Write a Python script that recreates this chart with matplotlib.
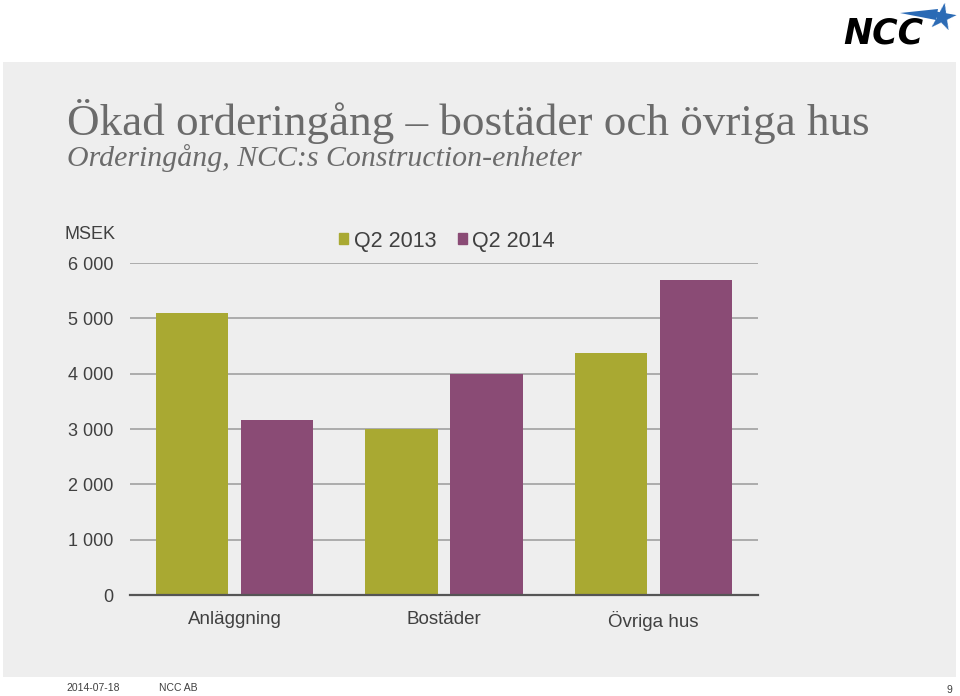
import numpy as np
import matplotlib.pyplot as plt
from matplotlib.patches import Rectangle, Patch, Polygon


categories = ["Anläggning", "Bostäder", "Övriga hus"]
q2_2013 = [5100, 3000, 4370]
q2_2014 = [3170, 4000, 5700]
series_names = ["Q2 2013", "Q2 2014"]
yticks = [0, 1000, 2000, 3000, 4000, 5000, 6000]

OLIVE = "#A9A932"
PURPLE = "#8A4B75"
TEXT = "#404040"
TITLE = "#6b6b6b"
BLUE = "#2a6ab5"

W, H = 960, 696


def fx(px):
    return px / W


def fy(py):
    return 1 - py / H


fig = plt.figure(figsize=(9.6, 6.96), dpi=100)
fig.patch.set_facecolor("white")

# grey slide panel
fig.patches.append(Rectangle((fx(3), fy(677)), fx(953), 615 / H,
                             transform=fig.transFigure, facecolor="#eeeeee",
                             edgecolor="none", zorder=-5))

# =========================
# Titles
# =========================

fig.text(fx(67), fy(121), "Ökad orderingång – bostäder och övriga hus",
         family="Liberation Serif", fontsize=32.5, color=TITLE, va="center")
fig.text(fx(67), fy(158), "Orderingång, NCC:s Construction-enheter",
         family="Liberation Serif", style="italic", fontsize=21.5,
         color=TITLE, va="center")

# =========================
# Bars
# =========================

ax = fig.add_axes([fx(130), fy(595), fx(628), 332 / H])
ax.set_facecolor("none")
ax.set_zorder(2)

x = np.arange(len(categories))
w = 0.347
off = 0.203
ax.bar(x - off, q2_2013, w, color=OLIVE, zorder=3, label=series_names[0])
ax.bar(x + off, q2_2014, w, color=PURPLE, zorder=3, label=series_names[1])

ax.set_xlim(-0.5, 2.5)
ax.set_ylim(0, 6000)
ax.set_yticks(yticks)
ax.set_yticklabels([f"{v:,}".replace(",", " ") for v in yticks])
ax.set_xticks(x)
ax.set_xticklabels(categories)
ax.tick_params(axis="y", length=0, pad=12, labelsize=13, labelcolor=TEXT)
ax.tick_params(axis="x", length=0, pad=11.5, labelsize=13.5, labelcolor=TEXT)
for lab in ax.get_yticklabels() + ax.get_xticklabels():
    lab.set_family("Liberation Sans")

ax.yaxis.grid(True, color="#a6a6a6", linewidth=1.3, zorder=1)
ax.set_axisbelow(True)
for s in ["top", "right", "left"]:
    ax.spines[s].set_visible(False)
ax.spines["bottom"].set_color("#555555")
ax.spines["bottom"].set_linewidth(1.6)
ax.spines["bottom"].set_zorder(4)

fig.text(fx(65), fy(234), "MSEK", family="Liberation Sans", fontsize=13,
         color=TEXT, va="center")

handles = [Patch(color=OLIVE), Patch(color=PURPLE)]
fig.legend(handles, series_names, loc="center", ncol=2,
           bbox_to_anchor=(fx(447), fy(241)), frameon=False,
           prop={"family": "Liberation Sans", "size": 15.5},
           labelcolor=TEXT, handlelength=0.42, handleheight=0.42,
           handletextpad=0.25, columnspacing=1.0)

# =========================
# Logo and footer
# =========================

fig.text(fx(843), fy(33), "NCC", family="DejaVu Sans", weight="heavy",
         style="italic", fontsize=25, color="black", va="center")
fig.patches.append(Polygon([(fx(900), fy(13)), (fx(938), fy(9)),
                            (fx(936), fy(20))], closed=True,
                           transform=fig.transFigure, facecolor=BLUE,
                           edgecolor="none"))
fig.text(fx(941), fy(19), "\u2605", family="DejaVu Sans", fontsize=26,
         color=BLUE, va="center", ha="center", rotation=-10)

fig.text(fx(66), fy(688), "2014-07-18", family="Liberation Sans",
         fontsize=7.5, color=TEXT, va="center")
fig.text(fx(159), fy(688), "NCC AB", family="Liberation Sans",
         fontsize=7.5, color=TEXT, va="center")
fig.text(fx(952), fy(690), "9", family="Liberation Sans",
         fontsize=7.5, color=TEXT, va="center", ha="right")

fig.savefig("out.png", dpi=100)
